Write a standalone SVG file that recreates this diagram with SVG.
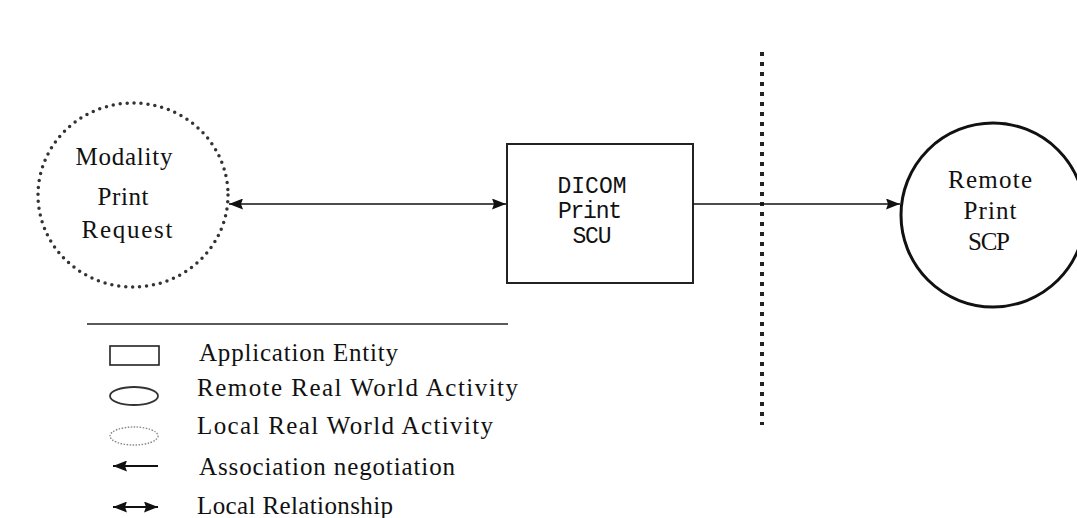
<svg xmlns="http://www.w3.org/2000/svg" width="1077" height="518" viewBox="0 0 1077 518">
<style>
.t{font-family:"Liberation Serif","Times New Roman",serif;font-size:25px;fill:#111}
.m{font-family:"Liberation Mono","Courier New",monospace;font-size:23px;fill:#111}
.c{stroke:#111;stroke-width:1.6;fill:none}
.lc{stroke:#111;stroke-width:2.2;fill:none}
</style>
<defs>
<marker id="ah" viewBox="0 0 14 11" refX="14" refY="5.5" markerWidth="14" markerHeight="11" markerUnits="userSpaceOnUse" orient="auto-start-reverse">
<path d="M0,0 L14,5.5 L0,11 L2,5.5 Z" fill="#111"/>
</marker>
</defs>
<rect width="1077" height="518" fill="#fff"/>
<g id="local-print-request">
<ellipse cx="133" cy="195" rx="95" ry="92" fill="none" stroke="#333" stroke-width="3.5" stroke-dasharray="0 7" stroke-linecap="round"/>
<text class="t" x="124" y="165" text-anchor="middle" textLength="97">Modality</text>
<text class="t" x="123" y="205" text-anchor="middle" textLength="51">Print</text>
<text class="t" x="127" y="238" text-anchor="middle" textLength="91">Request</text>
</g>
<g id="dicom-print-scu">
<rect x="507" y="144" width="186" height="139" fill="#fff" stroke="#222" stroke-width="2"/>
<text class="m" x="592" y="193" text-anchor="middle" textLength="69">DICOM</text>
<text class="m" x="590" y="218" text-anchor="middle" textLength="64">Print</text>
<text class="m" x="592" y="243" text-anchor="middle" textLength="39">SCU</text>
</g>
<g id="remote-print-scp">
<ellipse cx="993" cy="215" rx="92" ry="92" fill="none" stroke="#111" stroke-width="3"/>
<text class="t" x="990" y="188" text-anchor="middle" textLength="84">Remote</text>
<text class="t" x="990" y="219" text-anchor="middle" textLength="53">Print</text>
<text class="t" x="989" y="250" text-anchor="middle" textLength="42">SCP</text>
</g>
<g id="boundary">
<line x1="762" y1="52" x2="762" y2="425" stroke="#222" stroke-width="4" stroke-dasharray="4 6"/>
</g>
<g id="connectors">
<line class="c" x1="229" y1="204" x2="506" y2="204" marker-start="url(#ah)" marker-end="url(#ah)"/>
<line class="c" x1="693" y1="204" x2="900" y2="204" marker-end="url(#ah)"/>
</g>
<g id="legend">
<line x1="87" y1="324" x2="508" y2="324" stroke="#222" stroke-width="1.6"/>
<rect x="110" y="346" width="49" height="19" fill="none" stroke="#222" stroke-width="1.6"/>
<text class="t" x="199" y="361" textLength="199">Application Entity</text>
<ellipse cx="134" cy="396" rx="24" ry="9" fill="none" stroke="#333" stroke-width="1.8"/>
<text class="t" x="197" y="396" textLength="321">Remote Real World Activity</text>
<ellipse cx="134" cy="436" rx="24" ry="9" fill="none" stroke="#888" stroke-width="1.4" stroke-dasharray="1.5 1.5"/>
<text class="t" x="197" y="434" textLength="296">Local Real World Activity</text>
<line class="lc" x1="113" y1="466" x2="158" y2="466" marker-start="url(#ah)"/>
<text class="t" x="199" y="475" textLength="256">Association negotiation</text>
<line class="lc" x1="113" y1="507" x2="158" y2="507" marker-start="url(#ah)" marker-end="url(#ah)"/>
<text class="t" x="197" y="514" textLength="196">Local Relationship</text>
</g>
</svg>
